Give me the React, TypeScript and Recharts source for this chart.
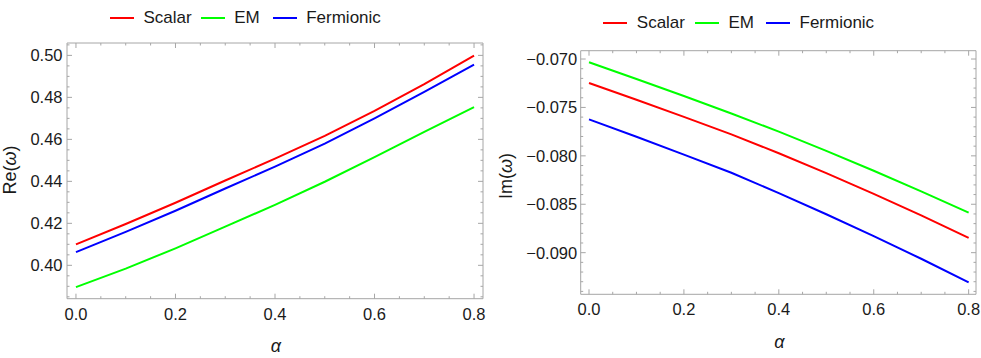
import React from 'react';
import { LineChart, Line, XAxis, YAxis } from 'recharts';

// ---------- data ----------
const alpha = [0, 0.1, 0.2, 0.3, 0.4, 0.5, 0.6, 0.7, 0.8];

const scalarRe = [0.41, 0.4197, 0.4298, 0.4404, 0.4508, 0.4617, 0.4736, 0.4863, 0.4999];
const emRe = [0.3896, 0.3984, 0.4081, 0.4184, 0.4288, 0.4398, 0.4515, 0.4636, 0.4754];
const fermionicRe = [0.4063, 0.4159, 0.426, 0.4366, 0.447, 0.458, 0.47, 0.4826, 0.4956];

const scalarIm = [-0.07248, -0.07421, -0.07598, -0.07778, -0.07973, -0.08178, -0.08392, -0.08615, -0.08848];
const emIm = [-0.07034, -0.07206, -0.07382, -0.07562, -0.0775, -0.07948, -0.08154, -0.08367, -0.08587];
const fermionicIm = [-0.07623, -0.07803, -0.07987, -0.08175, -0.08385, -0.08603, -0.08829, -0.09063, -0.09306];

const seriesNames = ['Scalar', 'EM', 'Fermionic'];
const seriesColors = ['#ff0000', '#00ff00', '#0000ff'];

const xMajorTicks = [0, 0.2, 0.4, 0.6, 0.8];
const xMinorTicks = [0.05, 0.1, 0.15, 0.25, 0.3, 0.35, 0.45, 0.5, 0.55, 0.65, 0.7, 0.75];

const reMajorTicks = [0.4, 0.42, 0.44, 0.46, 0.48, 0.5];
const reMinorTicks = [
  0.385, 0.39, 0.395, 0.405, 0.41, 0.415, 0.425, 0.43, 0.435, 0.445, 0.45, 0.455,
  0.465, 0.47, 0.475, 0.485, 0.49, 0.495, 0.505,
];

const imMajorTicks = [-0.09, -0.085, -0.08, -0.075, -0.07];
const imMinorTicks = [
  -0.094, -0.093, -0.092, -0.091, -0.089, -0.088, -0.087, -0.086, -0.084, -0.083,
  -0.082, -0.081, -0.079, -0.078, -0.077, -0.076, -0.074, -0.073, -0.072, -0.071,
];

const reData = alpha.map((a, i) => ({ a, Scalar: scalarRe[i], EM: emRe[i], Fermionic: fermionicRe[i] }));
const imData = alpha.map((a, i) => ({ a, Scalar: scalarIm[i], EM: emIm[i], Fermionic: fermionicIm[i] }));

// ---------- styles ----------
const FONT = '"Liberation Sans", Arial, Helvetica, sans-serif';
const FRAME = '#a6a6a6';
const TEXT = '#1a1a1a';
const MAJOR = 5;
const MINOR = 2.5;
const TICK_FONT = 16.5;

const fmtRe = (v: number) => v.toFixed(2);
const fmtIm = (v: number) => (v < 0 ? '\u2212' : '') + Math.abs(v).toFixed(3);
const fmtX = (v: number) => v.toFixed(1);
const blank = () => '';

type PanelProps = {
  left: number;
  width: number;
  data: any[];
  xDomain: [number, number];
  yDomain: [number, number];
  yMajor: number[];
  yMinor: number[];
  yFmt: (v: number) => string;
  margin: { top: number; right: number; bottom: number; left: number };
  yAxisWidth: number;
  yTickMargin: number;
  xTickMargin: number;
};

function Panel(p: PanelProps) {
  return (
    <div style={{ position: 'absolute', left: p.left, top: 0 }}>
      <LineChart width={p.width} height={358} data={p.data} margin={p.margin}>
        <XAxis
          xAxisId="x"
          dataKey="a"
          type="number"
          domain={p.xDomain}
          allowDataOverflow
          ticks={xMajorTicks}
          interval={0}
          height={30}
          tickSize={-MAJOR}
          tickMargin={p.xTickMargin}
          tickFormatter={fmtX}
          stroke={FRAME}
          tick={{ fill: TEXT, fontSize: TICK_FONT, fontFamily: FONT }}
        />
        <XAxis
          xAxisId="xb"
          dataKey="a"
          type="number"
          domain={p.xDomain}
          allowDataOverflow
          ticks={xMinorTicks}
          interval={0}
          mirror
          height={1}
          tickSize={MINOR}
          tickFormatter={blank}
          axisLine={false}
          stroke={FRAME}
        />
        <XAxis
          xAxisId="xt"
          orientation="top"
          dataKey="a"
          type="number"
          domain={p.xDomain}
          allowDataOverflow
          ticks={xMajorTicks}
          interval={0}
          height={1}
          tickSize={-MAJOR}
          tickFormatter={blank}
          stroke={FRAME}
        />
        <XAxis
          xAxisId="xtm"
          orientation="top"
          dataKey="a"
          type="number"
          domain={p.xDomain}
          allowDataOverflow
          ticks={xMinorTicks}
          interval={0}
          mirror
          height={1}
          tickSize={MINOR}
          tickFormatter={blank}
          axisLine={false}
          stroke={FRAME}
        />
        <YAxis
          yAxisId="y"
          type="number"
          domain={p.yDomain}
          allowDataOverflow
          ticks={p.yMajor}
          interval={0}
          width={p.yAxisWidth}
          tickSize={-MAJOR}
          tickMargin={p.yTickMargin}
          tickFormatter={p.yFmt}
          stroke={FRAME}
          tick={{ fill: TEXT, fontSize: TICK_FONT, fontFamily: FONT }}
        />
        <YAxis
          yAxisId="ym"
          type="number"
          domain={p.yDomain}
          allowDataOverflow
          ticks={p.yMinor}
          interval={0}
          mirror
          width={1}
          tickSize={MINOR}
          tickFormatter={blank}
          axisLine={false}
          stroke={FRAME}
        />
        <YAxis
          yAxisId="yr"
          orientation="right"
          type="number"
          domain={p.yDomain}
          allowDataOverflow
          ticks={p.yMajor}
          interval={0}
          width={1}
          tickSize={-MAJOR}
          tickFormatter={blank}
          stroke={FRAME}
        />
        <YAxis
          yAxisId="yrm"
          orientation="right"
          type="number"
          domain={p.yDomain}
          allowDataOverflow
          ticks={p.yMinor}
          interval={0}
          mirror
          width={1}
          tickSize={MINOR}
          tickFormatter={blank}
          axisLine={false}
          stroke={FRAME}
        />
        {seriesNames.map((name, i) => (
          <Line
            key={name}
            xAxisId="x"
            yAxisId="y"
            type="linear"
            dataKey={name}
            stroke={seriesColors[i]}
            strokeWidth={2}
            dot={false}
            activeDot={false}
            isAnimationActive={false}
          />
        ))}
      </LineChart>
    </div>
  );
}

function LegendRow({ starts, centerY }: { starts: number[]; centerY: number }) {
  return (
    <>
      {seriesNames.map((name, i) => (
        <div
          key={name}
          style={{
            position: 'absolute',
            left: starts[i],
            top: centerY - 10,
            height: 20,
            display: 'flex',
            alignItems: 'center',
            fontFamily: FONT,
            fontSize: 17,
            color: TEXT,
            whiteSpace: 'nowrap',
          }}
        >
          <span style={{ display: 'inline-block', width: 24, height: 2, background: seriesColors[i], marginRight: 9.5 }} />
          <span>{name}</span>
        </div>
      ))}
    </>
  );
}

function AxisText({ x, y, children, rotate, italic }: { x: number; y: number; children: React.ReactNode; rotate?: boolean; italic?: boolean }) {
  return (
    <div
      style={{
        position: 'absolute',
        left: x,
        top: y,
        transform: `translate(-50%, -50%)${rotate ? ' rotate(-90deg)' : ''}`,
        fontFamily: FONT,
        fontSize: 18,
        fontStyle: italic ? 'italic' : 'normal',
        color: TEXT,
        whiteSpace: 'nowrap',
        lineHeight: 1,
      }}
    >
      {children}
    </div>
  );
}

export default function App() {
  return (
    <div style={{ position: 'absolute', left: 0, top: 0, width: 981, height: 358, background: '#fff', overflow: 'hidden' }}>
      <Panel
        left={0}
        width={490}
        data={reData}
        xDomain={[-0.018, 0.818]}
        yDomain={[0.3841, 0.5059]}
        yMajor={reMajorTicks}
        yMinor={reMinorTicks}
        yFmt={fmtRe}
        margin={{ top: 42, right: 6, bottom: 29.3, left: 7 }}
        yAxisWidth={60}
        yTickMargin={9.5}
        xTickMargin={14.5}
      />
      <Panel
        left={490}
        width={491}
        data={imData}
        xDomain={[-0.0175, 0.8155]}
        yDomain={[-0.0943, -0.06914]}
        yMajor={imMajorTicks}
        yMinor={imMinorTicks}
        yFmt={fmtIm}
        margin={{ top: 49.7, right: 4, bottom: 33.7, left: 10.7 }}
        yAxisWidth={80}
        yTickMargin={8.5}
        xTickMargin={14}
      />
      <LegendRow starts={[110, 200.7, 272.7]} centerY={18.3} />
      <LegendRow starts={[603.3, 695, 766]} centerY={23.3} />
      <AxisText x={10} y={170} rotate>
        Re(<i>ω</i>)
      </AxisText>
      <AxisText x={505.5} y={176} rotate>
        Im(<i>ω</i>)
      </AxisText>
      <AxisText x={276} y={346} italic>
        α
      </AxisText>
      <AxisText x={779.5} y={341.7} italic>
        α
      </AxisText>
    </div>
  );
}
